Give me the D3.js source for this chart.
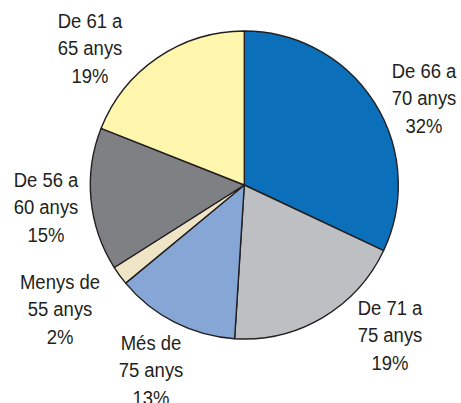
<!DOCTYPE html>
<html>
<head>
<meta charset="utf-8">
<script src="https://cdn.jsdelivr.net/npm/d3@7"></script>
<style>
  body { margin: 0; background: #fff; }
</style>
</head>
<body>
<div id="chart"></div>
<script>
// Slices, clockwise from 12 o'clock
const groups = ["De 66 a 70 anys", "De 71 a 75 anys", "Més de 75 anys", "Menys de 55 anys", "De 56 a 60 anys", "De 61 a 65 anys"];
const shares = [32, 19, 13, 2, 15, 19];
const colors = ["#0b6fba", "#bebfc2", "#86a7d6", "#efe5c6", "#7f8083", "#fff6ae"];
const labelLines = [
  ["De 66 a", "70 anys", "32%"],
  ["De 71 a", "75 anys", "19%"],
  ["Més de", "75 anys", "13%"],
  ["Menys de", "55 anys", "2%"],
  ["De 56 a", "60 anys", "15%"],
  ["De 61 a", "65 anys", "19%"],
];
// label anchor (centre x, first baseline y)
const labelPos = [[424, 78], [390, 315], [151, 350], [60, 289], [46, 187], [90, 28]];

const width = 461;
const height = 403;
const cx = 244.3, cy = 185, radius = 154;

const svg = d3.select("#chart").append("svg")
  .attr("width", width)
  .attr("height", height)
  .attr("viewBox", [0, 0, width, height]);

const pie = d3.pie().sort(null).value((d) => d.value);
const arcs = pie(groups.map((g, i) => ({ name: g, value: shares[i] })));
const arc = d3.arc().innerRadius(0).outerRadius(radius);

svg.append("g")
  .attr("transform", `translate(${cx},${cy})`)
  .attr("stroke", "#231f20")
  .attr("stroke-width", 1.4)
  .attr("stroke-linejoin", "round")
  .selectAll("path")
  .data(arcs)
  .enter()
  .append("path")
  .attr("d", arc)
  .attr("fill", (d, i) => colors[i]);

// labels, a narrow sans look
const label = svg.append("g")
  .attr("font-family", "'Liberation Sans', Arial, sans-serif")
  .attr("font-size", 21)
  .attr("fill", "#231f20")
  .attr("text-anchor", "middle")
  .selectAll("text")
  .data(labelLines)
  .enter()
  .append("text")
  .attr("transform", (d, i) => `translate(${labelPos[i][0]},${labelPos[i][1]}) scale(0.88,1)`);

label.selectAll("tspan")
  .data((d) => d)
  .enter()
  .append("tspan")
  .attr("x", 0)
  .attr("y", (d, j) => j * 27.5)
  .text((d) => d);
</script>
</body>
</html>
